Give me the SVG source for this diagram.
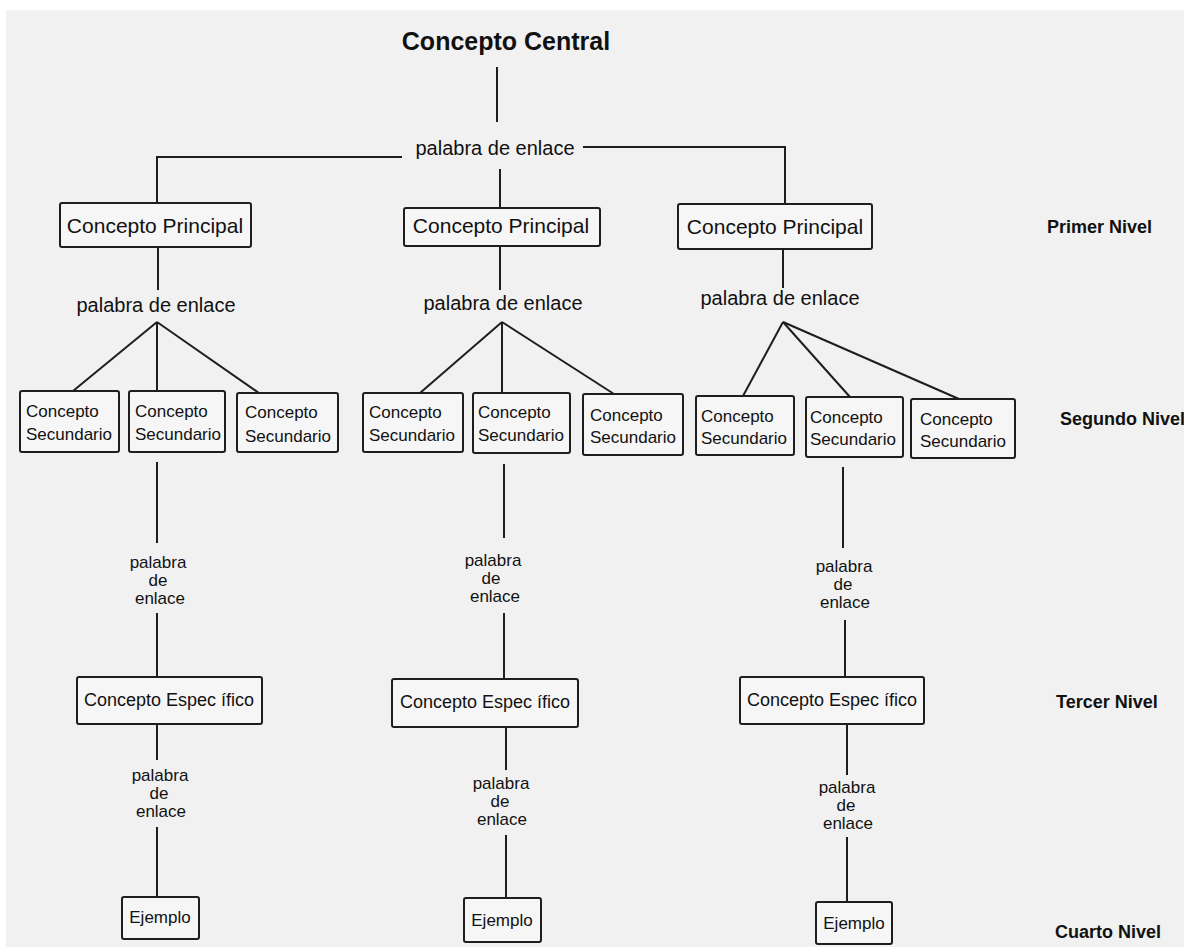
<svg xmlns="http://www.w3.org/2000/svg" width="1184" height="947" viewBox="0 0 1184 947">
<style>
.box{fill:#f6f6f6;stroke:#1e1e1e;stroke-width:2}
.ln{stroke:#1e1e1e;stroke-width:2;fill:none}
text{font-family:"Liberation Sans",Arial,sans-serif;fill:#111}
.t20{font-size:20px;text-anchor:middle}
.t21{font-size:21px;text-anchor:middle}
.t17{font-size:17px}
.t17m{font-size:17px;text-anchor:middle}
.t18m{font-size:18px;text-anchor:middle}
.lvl{font-size:18px;font-weight:bold}
</style>
<rect x="0" y="0" width="1184" height="947" fill="#ffffff"/>
<rect x="6" y="10" width="1178" height="937" fill="#f1f1f1"/>

<g id="connectors">
<line class="ln" x1="497" y1="67" x2="497" y2="122"/>
<polyline class="ln" points="402,157 157,157 157,203"/>
<polyline class="ln" points="583,147 785,147 785,204"/>
<line class="ln" x1="500" y1="169" x2="500" y2="208"/>
<line class="ln" x1="158" y1="247" x2="158" y2="290"/>
<line class="ln" x1="500" y1="246" x2="500" y2="290"/>
<line class="ln" x1="783" y1="249" x2="783" y2="288"/>
<line class="ln" x1="157" y1="322" x2="73" y2="391"/>
<line class="ln" x1="157" y1="322" x2="157" y2="391"/>
<line class="ln" x1="157" y1="322" x2="259" y2="393"/>
<line class="ln" x1="502" y1="322" x2="420" y2="393"/>
<line class="ln" x1="502" y1="322" x2="502" y2="393"/>
<line class="ln" x1="502" y1="322" x2="614" y2="394"/>
<line class="ln" x1="783" y1="322" x2="743" y2="396"/>
<line class="ln" x1="783" y1="322" x2="850" y2="397"/>
<line class="ln" x1="783" y1="322" x2="959" y2="399"/>
<line class="ln" x1="157" y1="462" x2="157" y2="543"/>
<line class="ln" x1="157" y1="613" x2="157" y2="677"/>
<line class="ln" x1="504" y1="464" x2="504" y2="538"/>
<line class="ln" x1="504" y1="613" x2="504" y2="679"/>
<line class="ln" x1="843" y1="467" x2="843" y2="548"/>
<line class="ln" x1="845" y1="620" x2="845" y2="677"/>
<line class="ln" x1="157" y1="724" x2="157" y2="760"/>
<line class="ln" x1="157" y1="827" x2="157" y2="897"/>
<line class="ln" x1="506" y1="727" x2="506" y2="770"/>
<line class="ln" x1="506" y1="835" x2="506" y2="898"/>
<line class="ln" x1="847" y1="724" x2="847" y2="775"/>
<line class="ln" x1="847" y1="837" x2="847" y2="902"/>
</g>

<g id="central"><text x="506" y="50" font-size="25" font-weight="bold" text-anchor="middle">Concepto Central</text></g>
<g id="link-top"><text class="t20" x="495" y="155">palabra de enlace</text></g>

<g id="principal-1"><rect class="box" x="60" y="203" width="191" height="44" rx="2"/><text class="t21" x="155" y="233">Concepto Principal</text></g>
<g id="principal-2"><rect class="box" x="404" y="208" width="196" height="38" rx="2"/><text class="t21" x="501" y="233">Concepto Principal</text></g>
<g id="principal-3"><rect class="box" x="678" y="204" width="194" height="45" rx="2"/><text class="t21" x="775" y="234">Concepto Principal</text></g>

<g id="link-1"><text class="t20" x="156" y="312">palabra de enlace</text></g>
<g id="link-2"><text class="t20" x="503" y="310">palabra de enlace</text></g>
<g id="link-3"><text class="t20" x="780" y="305">palabra de enlace</text></g>

<g id="sec-1"><rect class="box" x="20" y="391" width="99" height="61" rx="2"/><text class="t17" x="26" y="417">Concepto</text><text class="t17" x="26" y="440">Secundario</text></g>
<g id="sec-2"><rect class="box" x="129" y="391" width="96" height="61" rx="2"/><text class="t17" x="135" y="417">Concepto</text><text class="t17" x="135" y="440">Secundario</text></g>
<g id="sec-3"><rect class="box" x="237" y="393" width="101" height="59" rx="2"/><text class="t17" x="245" y="418">Concepto</text><text class="t17" x="245" y="442">Secundario</text></g>
<g id="sec-4"><rect class="box" x="363" y="393" width="100" height="59" rx="2"/><text class="t17" x="369" y="418">Concepto</text><text class="t17" x="369" y="441">Secundario</text></g>
<g id="sec-5"><rect class="box" x="473" y="393" width="97" height="60" rx="2"/><text class="t17" x="478" y="418">Concepto</text><text class="t17" x="478" y="441">Secundario</text></g>
<g id="sec-6"><rect class="box" x="583" y="394" width="100" height="61" rx="2"/><text class="t17" x="590" y="421">Concepto</text><text class="t17" x="590" y="443">Secundario</text></g>
<g id="sec-7"><rect class="box" x="696" y="396" width="98" height="59" rx="2"/><text class="t17" x="701" y="422">Concepto</text><text class="t17" x="701" y="444">Secundario</text></g>
<g id="sec-8"><rect class="box" x="806" y="397" width="97" height="60" rx="2"/><text class="t17" x="810" y="423">Concepto</text><text class="t17" x="810" y="445">Secundario</text></g>
<g id="sec-9"><rect class="box" x="911" y="399" width="104" height="59" rx="2"/><text class="t17" x="920" y="425">Concepto</text><text class="t17" x="920" y="447">Secundario</text></g>

<g id="link-4"><text class="t17m" x="158" y="568">palabra</text><text class="t17m" x="158" y="586">de</text><text class="t17m" x="160" y="604">enlace</text></g>
<g id="link-5"><text class="t17m" x="493" y="566">palabra</text><text class="t17m" x="491" y="584">de</text><text class="t17m" x="495" y="602">enlace</text></g>
<g id="link-6"><text class="t17m" x="844" y="572">palabra</text><text class="t17m" x="843" y="590">de</text><text class="t17m" x="845" y="608">enlace</text></g>

<g id="esp-1"><rect class="box" x="77" y="677" width="185" height="47" rx="2"/><text class="t18m" x="169" y="706">Concepto Espec ífico</text></g>
<g id="esp-2"><rect class="box" x="392" y="679" width="186" height="48" rx="2"/><text class="t18m" x="485" y="708">Concepto Espec ífico</text></g>
<g id="esp-3"><rect class="box" x="740" y="677" width="184" height="47" rx="2"/><text class="t18m" x="832" y="706">Concepto Espec ífico</text></g>

<g id="link-7"><text class="t17m" x="160" y="781">palabra</text><text class="t17m" x="159" y="799">de</text><text class="t17m" x="161" y="817">enlace</text></g>
<g id="link-8"><text class="t17m" x="501" y="789">palabra</text><text class="t17m" x="500" y="807">de</text><text class="t17m" x="502" y="825">enlace</text></g>
<g id="link-9"><text class="t17m" x="847" y="793">palabra</text><text class="t17m" x="846" y="811">de</text><text class="t17m" x="848" y="829">enlace</text></g>

<g id="ej-1"><rect class="box" x="122" y="897" width="77" height="42" rx="2"/><text class="t17m" x="160" y="923">Ejemplo</text></g>
<g id="ej-2"><rect class="box" x="464" y="898" width="77" height="44" rx="2"/><text class="t17m" x="502" y="926">Ejemplo</text></g>
<g id="ej-3"><rect class="box" x="816" y="902" width="76" height="42" rx="2"/><text class="t17m" x="854" y="929">Ejemplo</text></g>

<g id="levels">
<text class="lvl" x="1047" y="233">Primer Nivel</text>
<text class="lvl" x="1060" y="425">Segundo Nivel</text>
<text class="lvl" x="1056" y="708">Tercer Nivel</text>
<text class="lvl" x="1055" y="938">Cuarto Nivel</text>
</g>
</svg>
